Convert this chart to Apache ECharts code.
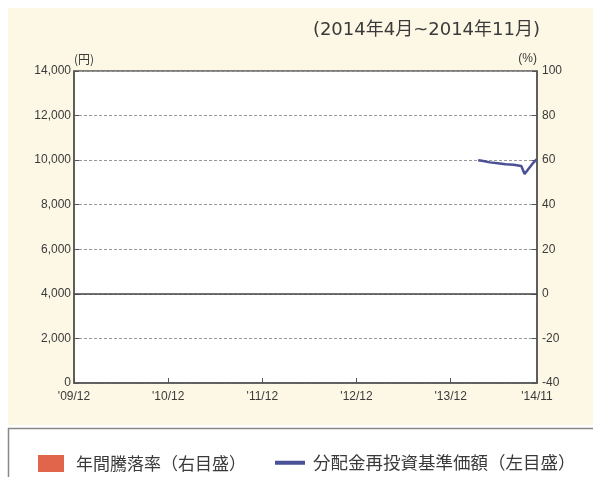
<!DOCTYPE html>
<html>
<head>
<meta charset="utf-8">
<script src="https://cdn.jsdelivr.net/npm/echarts@6/dist/echarts.min.js"></script>
<style>
html,body{margin:0;padding:0;background:#fff;}
#c{width:593px;height:477px;}
</style>
</head>
<body>
<div id="c"></div>
<script>
// ---- data ----
const titleText = '(2014年4月~2014年11月)';
const xTickLabels = ["'09/12", "'10/12", "'11/12", "'12/12", "'13/12", "'14/11"];
const xTickMonths = [0, 12, 24, 36, 48, 59]; // months after end of Dec 2009
const leftTicks = [0, 2000, 4000, 6000, 8000, 10000, 12000, 14000];
const rightTicks = [-40, -20, 0, 20, 40, 60, 80, 100];
const navDates = ['2014-04-15', '2014-04-30', '2014-05-31', '2014-06-30', '2014-07-31',
                  '2014-08-31', '2014-09-30', '2014-10-13', '2014-11-15', '2014-11-28'];
const navValues = [10000, 9970, 9900, 9860, 9820, 9790, 9740, 9380, 9870, 10030];
const annualReturnValues = []; // 年間騰落率: no full year yet
const seriesNames = ['年間騰落率（右目盛）', '分配金再投資基準価額（左目盛）'];

function monthOffset(s) {
  const [y, m, d] = s.split('-').map(Number);
  const dim = new Date(y, m, 0).getDate();
  return (y - 2010) * 12 + (m - 1) + d / dim;
}
const navData = navDates.map((d, i) => [monthOffset(d), navValues[i]]);

const numFont = '"Liberation Sans", Arial, sans-serif';
const jpFont = '"Noto Sans CJK JP", sans-serif';
const txt = '#3a3a3a';

const chart = echarts.init(document.getElementById('c'));
chart.setOption({
  animation: false,
  backgroundColor: '#fff',
  textStyle: { fontFamily: numFont },
  graphic: [
    { type: 'rect', z: -10, shape: { x: 8, y: 8, width: 600, height: 417 }, style: { fill: '#fdf8e6' } },
    { type: 'rect', z: -10, shape: { x: 8.5, y: 428.5, width: 600, height: 60 }, style: { fill: '#fff', stroke: '#888', lineWidth: 1.5 } },
    { type: 'text', right: 53, top: 21, style: { text: titleText, font: '18px "DejaVu Sans", "Noto Sans CJK JP", sans-serif', fill: txt } }
  ],
  grid: { left: 74, right: 56, top: 71, bottom: 94, show: true, backgroundColor: '#fff', borderColor: '#555', borderWidth: 1.5 },
  legend: [
    { data: [{ name: seriesNames[0], icon: 'rect' }], left: 38, top: 455, padding: 0, itemWidth: 26, itemHeight: 17,
      textStyle: { fontFamily: jpFont, fontSize: 17, color: txt, padding: [0, 0, 0, 7] } },
    { data: [{ name: seriesNames[1], icon: 'rect' }], left: 275, top: 454, padding: 0, itemWidth: 30, itemHeight: 4,
      textStyle: { fontFamily: jpFont, fontSize: 17.5, color: txt, padding: [0, 0, 0, 3] } }
  ],
  xAxis: {
    type: 'value', min: xTickMonths[0], max: xTickMonths[xTickMonths.length - 1], interval: 12,
    axisLine: { lineStyle: { color: '#555', width: 1.5 } },
    axisTick: { inside: true, length: 5, lineStyle: { color: '#555' } },
    splitLine: { show: false },
    axisLabel: {
      color: txt, fontSize: 12, margin: 8, showMaxLabel: true, showMinLabel: true,
      formatter: v => { const i = xTickMonths.indexOf(Math.round(v)); return i >= 0 ? xTickLabels[i] : ''; }
    }
  },
  yAxis: [
    {
      type: 'value', min: leftTicks[0], max: leftTicks[leftTicks.length - 1], interval: 2000,
      name: '(円)', nameLocation: 'end', nameGap: 3,
      nameTextStyle: { align: 'left', color: txt, fontSize: 12, fontFamily: jpFont, padding: [0, 0, 0, 0] },
      axisLine: { show: true, lineStyle: { color: '#555', width: 1.5 } },
      axisTick: { show: true, inside: true, length: 5, lineStyle: { color: '#555' } },
      splitLine: { show: true, lineStyle: { color: '#999', type: [3, 2], width: 1 } },
      axisLabel: { color: txt, fontSize: 12, margin: 3 }
    },
    {
      type: 'value', min: rightTicks[0], max: rightTicks[rightTicks.length - 1], interval: 20,
      position: 'right',
      name: '(%)', nameLocation: 'end', nameGap: 3,
      nameTextStyle: { align: 'right', color: txt, fontSize: 12, fontFamily: numFont },
      axisLine: { show: true, lineStyle: { color: '#555', width: 1.5 } },
      axisTick: { show: true, inside: true, length: 5, lineStyle: { color: '#555' } },
      splitLine: { show: false },
      axisLabel: { color: txt, fontSize: 12, margin: 5 }
    }
  ],
  series: [
    { name: seriesNames[0], type: 'bar', yAxisIndex: 1, data: annualReturnValues, itemStyle: { color: '#e0654a' } },
    {
      name: seriesNames[1], type: 'line', yAxisIndex: 0, data: navData, showSymbol: false, symbol: 'none',
      lineStyle: { color: '#4a5196', width: 2.5 }, itemStyle: { color: '#4a5196' },
      markLine: {
        silent: true, symbol: 'none', label: { show: false },
        lineStyle: { color: '#444', type: 'solid', width: 1.5 },
        data: [{ yAxis: 4000 }]
      }
    }
  ]
});
</script>
</body>
</html>
